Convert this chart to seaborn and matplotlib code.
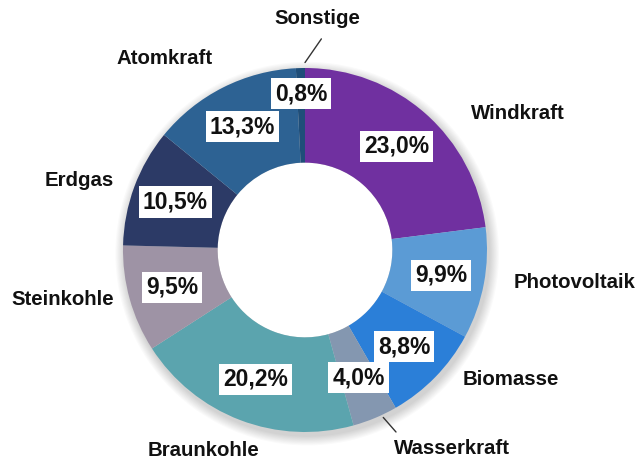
import numpy as np
import matplotlib
matplotlib.use("Agg")
import matplotlib.pyplot as plt
from matplotlib.patches import Circle
import seaborn as sns

# ── DATEN ─────────────────────────────────────────────────────────────────────
sources = ["Windkraft", "Photovoltaik", "Biomasse", "Wasserkraft", "Braunkohle",
           "Steinkohle", "Erdgas", "Atomkraft", "Sonstige"]
shares = [23.0, 9.9, 8.8, 4.0, 20.2, 9.5, 10.5, 13.3, 0.8]
colors = ["#7030A0", "#5B9BD5", "#2B7FD8", "#8497B0", "#5BA4AE",
          "#9E93A5", "#2C3A66", "#2D6293", "#1F4E79"]

# Label-Positionen (Layout, in Radius-Einheiten)
name_pos = {
    "Windkraft": (1.17, 0.75), "Photovoltaik": (1.48, -0.18),
    "Biomasse": (1.13, -0.71), "Wasserkraft": (0.81, -1.09),
    "Braunkohle": (-0.56, -1.10), "Steinkohle": (-1.33, -0.27),
    "Erdgas": (-1.24, 0.38), "Atomkraft": (-0.77, 1.05),
    "Sonstige": (0.07, 1.27),
}
leaders = {"Wasserkraft": ((0.43, -0.92), (0.50, -1.00)),
           "Sonstige": ((0.0, 1.03), (0.09, 1.16))}

sns.set_theme(style="white")
plt.rcParams["font.family"] = ["Liberation Sans", "DejaVu Sans"]

fig = plt.figure(figsize=(6.38, 4.62), dpi=100)
# Achse so, dass Radius 1 = 182 px und Mittelpunkt bei (305, 250)
r_px = 182
cx, cy = 305, 462 - 250
ax = fig.add_axes([(cx - 1.6 * r_px) / 638, (cy - 1.6 * r_px) / 462,
                   3.2 * r_px / 638, 3.2 * r_px / 462])

wedges, _ = ax.pie(shares, colors=colors, startangle=90, counterclock=False,
                   radius=1.0, wedgeprops=dict(width=0.52, linewidth=0, zorder=3))
ax.set_aspect("auto")
ax.set_xlim(-1.6, 1.6)
ax.set_ylim(-1.6, 1.6)
ax.axis("off")

# weicher Schatten
for k in range(1, 10):
    ax.add_patch(Circle((0.012, -0.02), 1.0 + 0.006 * k, fc="black",
                        ec="none", alpha=0.018, zorder=1))
ax.add_patch(Circle((0, 0), 0.48, fc="white", ec="none", zorder=2))

cum = np.cumsum([0] + shares[:-1])
for name, val, start in zip(sources, shares, cum):
    mid = np.deg2rad(90 - (start + val / 2) * 3.6)
    r = 0.86 if val < 2 else 0.76
    ax.text(r * np.cos(mid), r * np.sin(mid), f"{val:.1f}%".replace(".", ","),
            ha="center", va="center", fontsize=16.5, fontweight="bold", color="#111111",
            zorder=5,
            bbox=dict(boxstyle="square,pad=0.18", fc="white", ec="none"))
    x, y = name_pos[name]
    ax.text(x, y, name, ha="center", va="center", fontsize=14.7,
            fontweight="bold", color="#111111", zorder=5)

for (x0, y0), (x1, y1) in leaders.values():
    ax.plot([x0, x1], [y0, y1], color="#333333", lw=1, zorder=5)

fig.savefig("out.png", dpi=100, facecolor="white")
